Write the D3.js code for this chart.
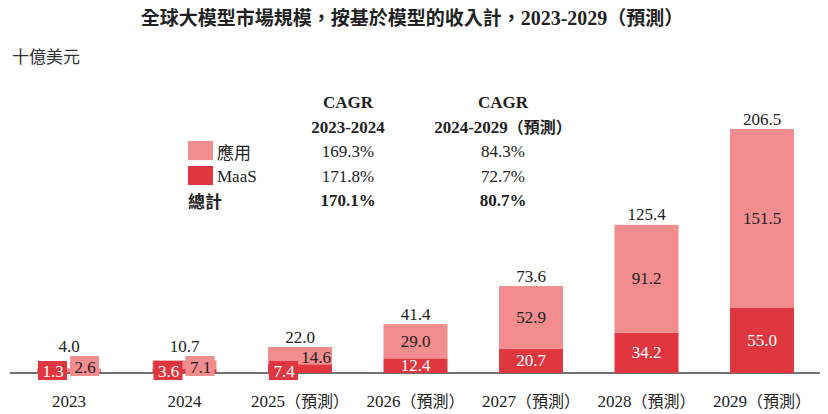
<!DOCTYPE html>
<html>
<head>
<meta charset="utf-8">
<script src="https://cdn.jsdelivr.net/npm/d3@7"></script>
<style>
  body { margin: 0; background: #fff; }
  svg { display: block; }
</style>
</head>
<body>
<script>
  const years = ['2023', '2024', '2025', '2026', '2027', '2028', '2029']
  const yearLabels = ['2023', '2024', '2025（預測）', '2026（預測）', '2027（預測）', '2028（預測）', '2029（預測）']
  const maas = [1.3, 3.6, 7.4, 12.4, 20.7, 34.2, 55.0]
  const apps = [2.6, 7.1, 14.6, 29.0, 52.9, 91.2, 151.5]
  const totals = [4.0, 10.7, 22.0, 41.4, 73.6, 125.4, 206.5]

  const legendRows = ['應用', 'MaaS', '總計']
  const cagr1 = ['169.3%', '171.8%', '170.1%']
  const cagr2 = ['84.3%', '72.7%', '80.7%']

  const width = 828, height = 414
  const colors = {apps: '#f28c8e', maas: '#e0363f', text: '#222'}
  const serif = '"Liberation Serif", "Times New Roman", serif'
  const cjk = '"Noto Sans CJK TC", "Noto Sans CJK SC", sans-serif'
  const baseY = 373

  const svg = d3.select('body').append('svg')
      .attr('width', width)
      .attr('height', height)

  const x = d3.scaleBand()
    .domain(years)
    .range([11.25, 819.75])
    .paddingInner(0.446)
    .paddingOuter(0.223)

  const y = d3.scaleLinear()
    .domain([0, 206.5])
    .range([baseY, 129])

  const data = years.map((yr, i) => ({year: yr, label: yearLabels[i], maas: maas[i], apps: apps[i], total: totals[i]}))
  const cx = d => x(d.year) + x.bandwidth() / 2
  const barH = d => baseY - y(d.total)
  const small = d => barH(d) < 30
  const tiny = d => barH(d) < 20

  // title
  const title = svg.append('text')
      .attr('x', 412)
      .attr('y', 25)
      .attr('text-anchor', 'middle')
      .style('font-size', '19px')
      .style('fill', colors.text)
  title.append('tspan').style('font-family', cjk).style('font-weight', 'bold').text('全球大模型市場規模，按基於模型的收入計，')
  title.append('tspan').style('font-family', serif).style('font-weight', 'bold').style('font-size', '20px').text('2023-2029')
  title.append('tspan').style('font-family', cjk).style('font-weight', 'bold').text('（預測）')

  svg.append('text')
      .attr('x', 12)
      .attr('y', 63)
      .style('font-family', cjk)
      .style('font-size', '17px')
      .style('fill', '#333')
      .text('十億美元')

  // baseline
  svg.append('line')
      .attr('x1', 10).attr('x2', 820)
      .attr('y1', baseY).attr('y2', baseY)
      .style('stroke', '#444')
      .style('stroke-width', 1.5)

  // bars
  const g = svg.append('g')

  g.selectAll('.bar-maas')
    .data(data)
    .enter().append('rect')
      .attr('class', 'bar-maas')
      .attr('x', d => x(d.year))
      .attr('width', x.bandwidth())
      .attr('y', d => y(d.maas))
      .attr('height', d => baseY - y(d.maas))
      .style('fill', colors.maas)

  g.selectAll('.bar-apps')
    .data(data)
    .enter().append('rect')
      .attr('class', 'bar-apps')
      .attr('x', d => x(d.year))
      .attr('width', x.bandwidth())
      .attr('y', d => y(d.maas + d.apps))
      .attr('height', d => y(d.maas) - y(d.maas + d.apps))
      .style('fill', colors.apps)

  // label boxes for the small bars
  g.selectAll('.box-apps')
    .data(data.filter(tiny))
    .enter().append('rect')
      .attr('x', d => cx(d) + 1)
      .attr('y', baseY - 17)
      .attr('width', 29)
      .attr('height', 20)
      .style('fill', colors.apps)
  g.selectAll('.box-maas')
    .data(data.filter(small))
    .enter().append('rect')
      .attr('x', d => cx(d) - 31)
      .attr('y', baseY - 12)
      .attr('width', 29)
      .attr('height', 19)
      .style('fill', colors.maas)

  const num = sel => sel
      .attr('text-anchor', 'middle')
      .attr('dominant-baseline', 'central')
      .style('font-family', serif)
      .style('font-size', '17px')

  // maas labels
  g.selectAll('.lbl-maas')
    .data(data)
    .enter().append('text')
      .call(num)
      .attr('x', d => small(d) ? cx(d) - 16 : cx(d))
      .attr('y', d => small(d) ? baseY - 2 : (y(d.maas) + baseY) / 2)
      .style('fill', '#fff')
      .text(d => d.maas.toFixed(1))

  // apps labels
  g.selectAll('.lbl-apps')
    .data(data)
    .enter().append('text')
      .call(num)
      .attr('x', d => small(d) ? cx(d) + 16 : cx(d))
      .attr('y', d => {
        if (!small(d)) return (y(d.maas) + y(d.total)) / 2
        return tiny(d) ? baseY - 6 : y(d.total) + 10
      })
      .style('fill', colors.text)
      .text(d => d.apps.toFixed(1))

  // totals
  g.selectAll('.lbl-total')
    .data(data)
    .enter().append('text')
      .call(num)
      .attr('x', cx)
      .attr('y', d => Math.min(y(d.total), baseY - 17) - 10)
      .style('fill', colors.text)
      .text(d => d.total.toFixed(1))

  // x labels
  g.selectAll('.lbl-year')
    .data(data)
    .enter().append('text')
      .attr('x', cx)
      .attr('y', 407)
      .attr('text-anchor', 'middle')
      .style('font-size', '17px')
      .style('fill', colors.text)
      .each(function(d) {
        const t = d3.select(this)
        t.append('tspan').style('font-family', serif).text(d.year)
        if (d.label.length > 4) t.append('tspan').style('font-family', cjk).style('font-size', '16px').text(d.label.slice(4))
      })

  // legend / CAGR table
  const lg = svg.append('g')
  const colX = [348, 503]
  const hdr1 = ['CAGR', 'CAGR']
  lg.selectAll('.hdr1')
    .data(hdr1)
    .enter().append('text')
      .attr('x', (d, i) => colX[i])
      .attr('y', 108)
      .attr('text-anchor', 'middle')
      .style('font-family', serif)
      .style('font-weight', 'bold')
      .style('font-size', '17px')
      .style('fill', colors.text)
      .text(d => d)
  lg.append('text')
      .attr('x', colX[0]).attr('y', 133)
      .attr('text-anchor', 'middle')
      .style('font-family', serif).style('font-weight', 'bold').style('font-size', '17px')
      .style('fill', colors.text)
      .text('2023-2024')
  const h2 = lg.append('text')
      .attr('x', colX[1]).attr('y', 133)
      .attr('text-anchor', 'middle')
      .style('font-weight', 'bold').style('font-size', '17px')
      .style('fill', colors.text)
  h2.append('tspan').style('font-family', serif).text('2024-2029')
  h2.append('tspan').style('font-family', cjk).style('font-size', '16px').text('（預測）')

  const rowY = [151, 176, 200]
  const swatch = [colors.apps, colors.maas]
  lg.selectAll('.sw')
    .data(swatch)
    .enter().append('rect')
      .attr('x', 188)
      .attr('y', (d, i) => rowY[i] - 10)
      .attr('width', 25)
      .attr('height', 19)
      .style('fill', d => d)

  lg.selectAll('.rowlbl')
    .data(legendRows)
    .enter().append('text')
      .attr('x', (d, i) => i < 2 ? 217 : 188)
      .attr('y', (d, i) => rowY[i])
      .attr('dominant-baseline', 'central')
      .style('font-family', d => d === 'MaaS' ? serif : cjk)
      .style('font-weight', (d, i) => i === 2 ? 'bold' : 'normal')
      .style('font-size', '17px')
      .style('fill', colors.text)
      .text(d => d)

  ;[cagr1, cagr2].forEach((col, c) => {
    lg.selectAll('.v' + c)
      .data(col)
      .enter().append('text')
        .attr('x', colX[c])
        .attr('y', (d, i) => rowY[i])
        .attr('text-anchor', 'middle')
        .attr('dominant-baseline', 'central')
        .style('font-family', serif)
        .style('font-weight', (d, i) => i === 2 ? 'bold' : 'normal')
        .style('font-size', '17px')
        .style('fill', colors.text)
        .text(d => d)
  })
</script>
</body>
</html>
